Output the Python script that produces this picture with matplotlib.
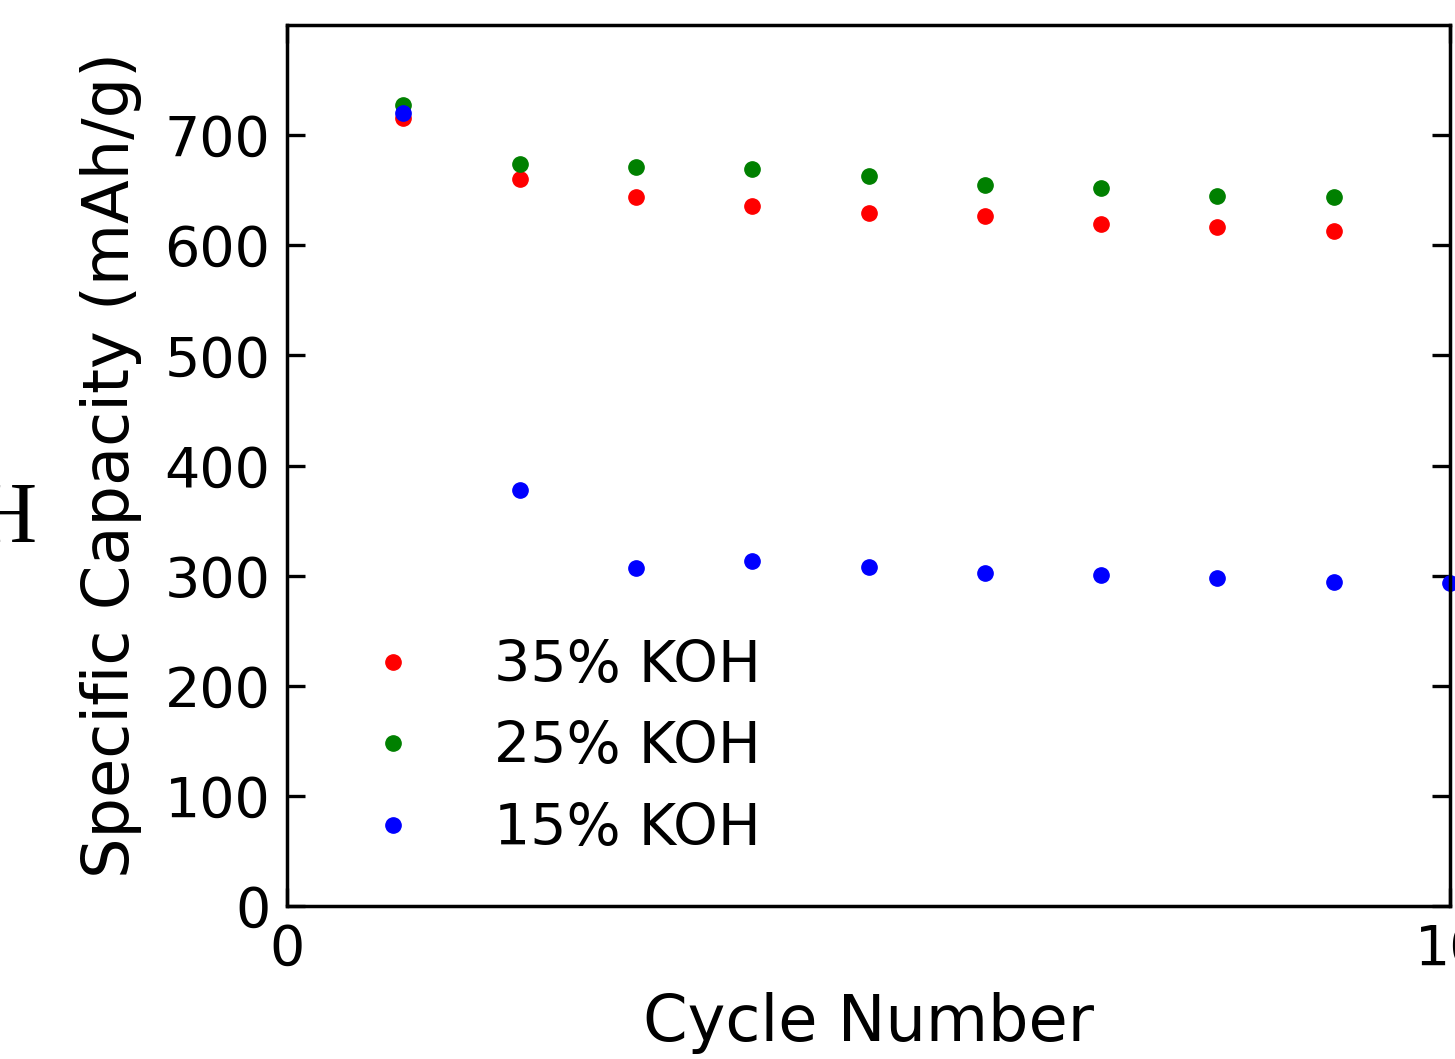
import matplotlib
matplotlib.use("Agg")
import matplotlib.pyplot as plt

# cycle numbers and specific capacity (mAh/g)
cycles = [1, 2, 3, 4, 5, 6, 7, 8, 9]
cycles_15 = [1, 2, 3, 4, 5, 6, 7, 8, 9, 10]
cap_35 = [716, 660, 644, 636, 629, 627, 619, 617, 613]
cap_25 = [727, 674, 671, 669, 663, 655, 652, 645, 644]
cap_15 = [720, 378, 307, 313, 308, 302, 301, 298, 294, 293]

labels = ["35% KOH", "25% KOH", "15% KOH"]
colors = ["red", "green", "blue"]

plt.rcParams["font.family"] = "DejaVu Sans"

fig = plt.figure(figsize=(14.55, 10.59), dpi=100)
ax = fig.add_axes([287 / 1455, 1 - 906 / 1059, (1450 - 287) / 1455, (906 - 25) / 1059])

ax.plot(cycles, cap_35, "o", color=colors[0], markersize=11, label=labels[0], clip_on=False)
ax.plot(cycles, cap_25, "o", color=colors[1], markersize=11, label=labels[1], clip_on=False)
ax.plot(cycles_15, cap_15, "o", color=colors[2], markersize=11, label=labels[2], clip_on=False)

ax.set_xlim(0, 10)
ax.set_ylim(0, 800)
ax.set_xticks([0, 10])
ax.set_yticks(range(0, 800, 100))

ax.tick_params(direction="in", length=13, width=2.4, labelsize=40, pad=12,
               top=True, right=True)
for sp in ax.spines.values():
    sp.set_linewidth(2.5)

ax.set_xlabel("Cycle Number", fontsize=46, labelpad=11)
ax.set_ylabel("Specific Capacity (mAh/g)", fontsize=46, labelpad=16)

ax.legend(loc="lower left", bbox_to_anchor=(0.023, -0.002), frameon=False,
          fontsize=41, handlelength=1.0, handletextpad=1.27,
          labelspacing=0.46, markerscale=1.0)

# fragment of the neighbouring panel's text
fig.text(37 / 1455, 1 - 542 / 1059, "H", family="Liberation Serif", fontsize=62,
         ha="right", va="baseline")

fig.savefig("out.png", dpi=100)
